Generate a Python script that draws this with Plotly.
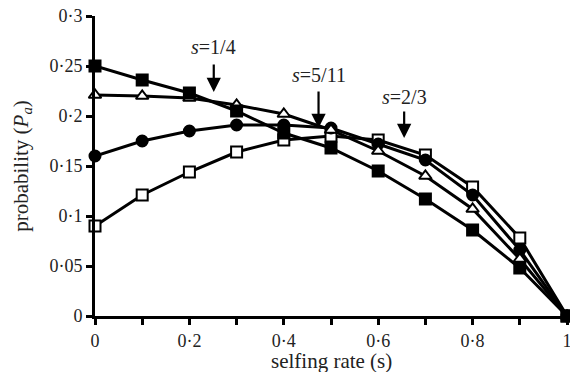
import plotly.graph_objects as go

selfing = [0, 0.1, 0.2, 0.3, 0.4, 0.5, 0.6, 0.7, 0.8, 0.9, 1.0]
filled_squares = [0.250, 0.236, 0.223, 0.205, 0.183, 0.168, 0.145, 0.117, 0.086, 0.048, 0]
open_triangles = [0.221, 0.220, 0.218, 0.211, 0.202, 0.186, 0.165, 0.140, 0.107, 0.057, 0]
filled_circles = [0.160, 0.175, 0.185, 0.191, 0.191, 0.188, 0.172, 0.156, 0.121, 0.066, 0]
open_squares = [0.090, 0.121, 0.144, 0.164, 0.176, 0.180, 0.176, 0.161, 0.129, 0.078, 0]

x_tickvals = [0, 0.1, 0.2, 0.3, 0.4, 0.5, 0.6, 0.7, 0.8, 0.9, 1.0]
x_ticktext = ["0", "", "0·2", "", "0·4", "", "0·6", "", "0·8", "", "1"]
y_tickvals = [0, 0.05, 0.1, 0.15, 0.2, 0.25, 0.3]
y_ticktext = ["0", "0·05", "0·1", "0·15", "0·2", "0·25", "0·3"]

x_title = "selfing rate (s)"
y_title = "probability (<i>P</i><sub><i>a</i></sub>)"

arrow_labels = ["<i>s</i>=1/4", "<i>s</i>=5/11", "<i>s</i>=2/3"]
arrow_x = [0.2516, 0.4736, 0.655]
arrow_tip_y = [0.224, 0.188, 0.178]
label_y = [0.269, 0.241, 0.219]
arrow_len_px = [29, 38, 28]

FONT = "Liberation Serif"

fig = go.Figure()

series = [
    (open_squares, "square", "white"),
    (filled_circles, "circle", "black"),
    (open_triangles, "triangle-up", "white"),
    (filled_squares, "square", "black"),
]
for vals, sym, fill in series:
    fig.add_trace(go.Scatter(
        x=selfing, y=vals, mode="lines+markers",
        line=dict(color="black", width=3),
        marker=dict(symbol=sym, size=11, color=fill,
                    line=dict(color="black", width=2)),
        cliponaxis=False, showlegend=False,
    ))

for lab, ax_, ty, ly, L in zip(arrow_labels, arrow_x, arrow_tip_y, label_y, arrow_len_px):
    fig.add_annotation(x=ax_, y=ty, xref="x", yref="y", text="", showarrow=True,
                       ax=0, ay=-L, arrowhead=2, arrowsize=1.3, arrowwidth=2.2,
                       arrowcolor="black")
    fig.add_annotation(x=ax_, y=ly, xref="x", yref="y", text=lab, showarrow=False,
                       xanchor="center", yanchor="middle",
                       font=dict(family=FONT, size=20, color="#222"))

fig.add_annotation(x=0.5, y=-0.15, xref="paper", yref="paper", text=x_title,
                   showarrow=False, xanchor="center", yanchor="middle",
                   font=dict(family=FONT, size=21, color="#222"))

fig.update_layout(
    width=570, height=372,
    margin=dict(l=95, r=3, t=16, b=56),
    paper_bgcolor="white", plot_bgcolor="white",
    font=dict(family=FONT, size=18, color="#222"),
    xaxis=dict(range=[0, 1], tickvals=x_tickvals, ticktext=x_ticktext,
               showgrid=False, zeroline=False, showline=True, automargin=False,
               linecolor="black", linewidth=3, ticks="outside", ticklen=6,
               tickwidth=3, tickcolor="black", ticklabeloverflow="allow",
               tickfont=dict(family=FONT, size=18)),
    yaxis=dict(range=[0, 0.3], tickvals=y_tickvals, ticktext=y_ticktext,
               showgrid=False, zeroline=False, showline=True, automargin=False,
               linecolor="black", linewidth=3, ticks="outside", ticklen=6,
               tickwidth=3, tickcolor="black",
               tickfont=dict(family=FONT, size=18),
               title=dict(text=y_title, standoff=16,
                          font=dict(family=FONT, size=21))),
)

fig.write_html("out.html", config={"displayModeBar": False},
               post_script="document.body.style.margin='0';")
